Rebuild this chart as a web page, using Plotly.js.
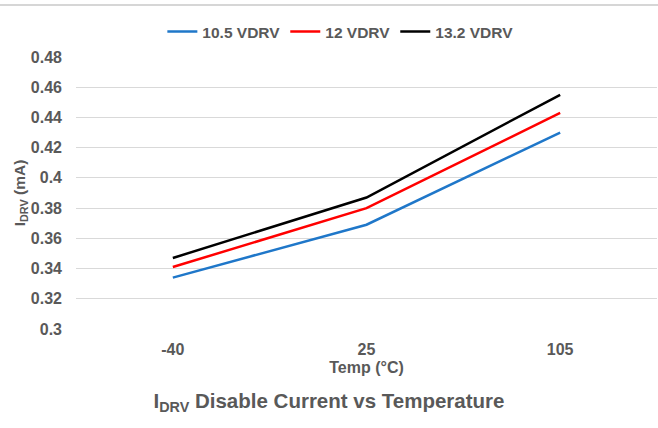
<!DOCTYPE html>
<html>
<head>
<meta charset="utf-8">
<script src="https://cdn.plot.ly/plotly-3.0.1.min.js"></script>
<style>html,body{margin:0;padding:0;background:#fff;}
#wrap{position:relative;width:658px;height:428px;}
#chart{width:658px;height:428px;}
#topline{position:absolute;left:0;top:4px;width:658px;height:2px;background:#d6d6d6;}
</style>
</head>
<body>
<div id="wrap"><div id="chart"></div><div id="topline"></div></div>
<script>
const temps = ["-40", "25", "105"];
const vdrv105 = [0.334, 0.369, 0.430];
const vdrv12 = [0.341, 0.380, 0.443];
const vdrv132 = [0.347, 0.387, 0.455];
const seriesNames = ["10.5 VDRV", "12 VDRV", "13.2 VDRV"];
const yTicks = [0.3, 0.32, 0.34, 0.36, 0.38, 0.4, 0.42, 0.44, 0.46, 0.48];

const colors = ["#1f77c9", "#ff0000", "#000000"];
const data = [vdrv105, vdrv12, vdrv132].map((ys, i) => ({
  x: temps, y: ys, type: "scatter", mode: "lines", name: seriesNames[i],
  line: {color: colors[i], width: 2.5}
}));

const fontFam = "Liberation Sans, Arial, sans-serif";
const grey = "#595959";
const layout = {
  width: 658, height: 428,
  margin: {l: 76, r: 1, t: 57, b: 99, autoexpand: false},
  paper_bgcolor: "#fff", plot_bgcolor: "#fff",
  font: {family: fontFam, color: grey, size: 16},
  showlegend: true,
  legend: {orientation: "h", x: 0.455, xanchor: "center", y: 1 + 25/272, yanchor: "middle",
    font: {size: 15.5, weight: "bold", color: grey}, itemwidth: 30, traceorder: "normal"},
  title: {text: "I<sub>DRV</sub> Disable Current vs Temperature", x: 0.5, xanchor: "center",
    xref: "container", yref: "container", y: 1 - 401/428, yanchor: "middle",
    font: {size: 20.5, weight: "bold", color: grey, family: fontFam}},
  xaxis: {type: "category", range: [-0.5, 2.5], showgrid: false, zeroline: false,
    showline: false, ticks: "", ticklabelstandoff: 9, tickfont: {size: 16, weight: "bold", color: grey},
    title: {text: "Temp (°C)", standoff: 4, font: {size: 16, weight: "bold", color: grey}}},
  yaxis: {range: [0.3, 0.48], tickvals: yTicks, ticktext: yTicks.map(v => String(v)),
    showgrid: true, gridcolor: "#d9d9d9", gridwidth: 1, zeroline: false, showline: false,
    ticks: "", ticklabelstandoff: 13,
    tickfont: {size: 16, weight: "bold", color: grey},
    title: {text: "I<sub>DRV</sub> (mA)", standoff: 1, font: {size: 15.5, weight: "bold", color: grey}}}
};
Plotly.newPlot("chart", data, layout, {displayModeBar: false, staticPlot: true});
</script>
</body>
</html>
